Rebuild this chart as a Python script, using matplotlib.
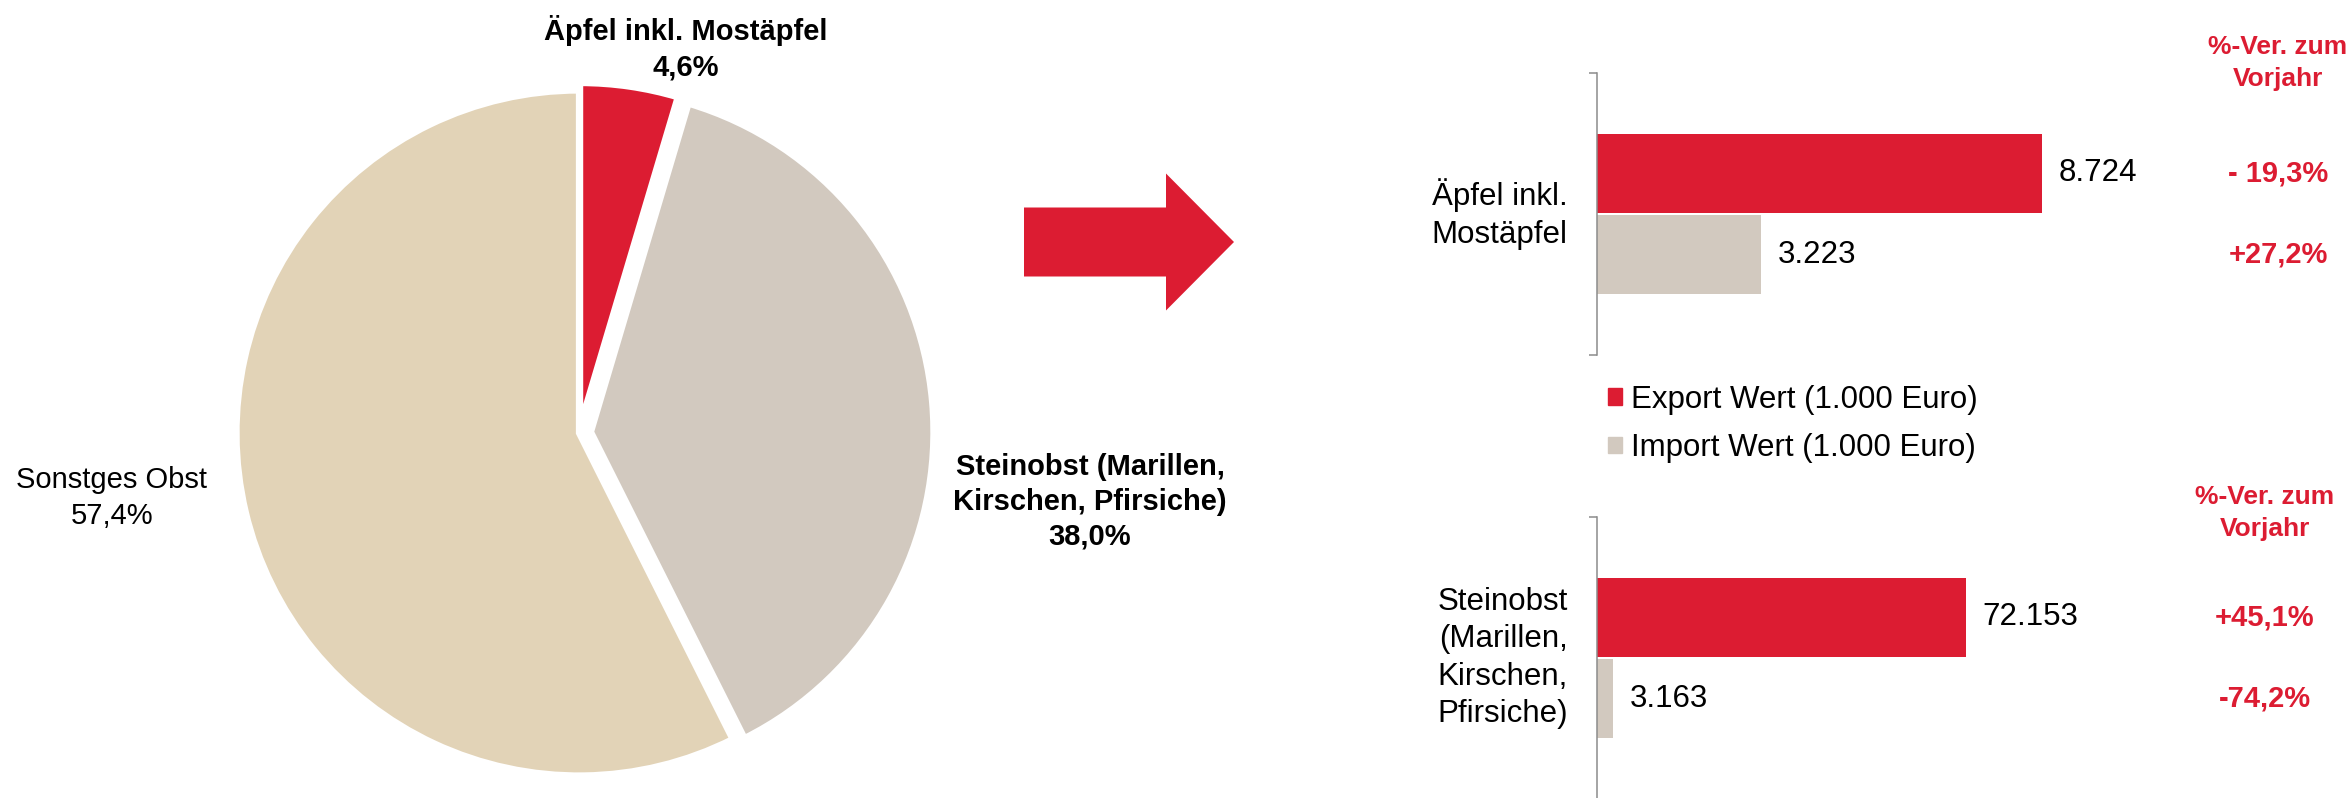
import numpy as np
import matplotlib
matplotlib.use("Agg")
import matplotlib.pyplot as plt
from matplotlib.patches import FancyArrow, Patch
from matplotlib.transforms import blended_transform_factory

plt.rcParams['font.family'] = ['Liberation Sans', 'DejaVu Sans']

# --- data ---
pie_labels = ["Äpfel inkl. Mostäpfel", "Steinobst (Marillen,\nKirschen, Pfirsiche)", "Sonstges Obst"]
pie_shares = [4.6, 38.0, 57.4]
pie_explode = [0.022, 0.035, 0.0]

categories = ["Äpfel inkl.\nMostäpfel", "Steinobst\n(Marillen,\nKirschen,\nPfirsiche)"]
export_wert = [8724, 72153]
import_wert = [3223, 3163]
export_change = ["- 19,3%", "+45,1%"]
import_change = ["+27,2%", "-74,2%"]
x_max = [10840, 108100]

RED = '#DC1C32'
STEIN = '#D2C9BF'
SONST = '#E2D3B7'
GREY = '#8C8C8C'

W, H = 2351, 798
fig = plt.figure(figsize=(W / 100, H / 100), dpi=100)


def box(left, top, width, height):
    return [left / W, 1 - (top + height) / H, width / W, height / H]


def de(v):
    return f"{v:,}".replace(",", ".")


def pct(v):
    return f"{v:.1f}%".replace(".", ",")


# overlay in pixel coordinates for arrow and free texts
ov = fig.add_axes([0, 0, 1, 1])
ov.set_xlim(0, W)
ov.set_ylim(H, 0)
ov.axis('off')

# --- pie ---
R = 342.5
half = 420
axp = fig.add_axes(box(579 - half, 433 - half, 2 * half, 2 * half))
axp.pie(pie_shares, colors=[RED, STEIN, SONST], startangle=90, counterclock=False,
        explode=pie_explode, radius=1,
        wedgeprops=dict(edgecolor='white', linewidth=4.5))
axp.set_xlim(-half / R, half / R)
axp.set_ylim(-half / R, half / R)
axp.axis('off')

ov.text(686, 48, pie_labels[0] + "\n" + pct(pie_shares[0]), ha='center', va='center',
        fontsize=21, fontweight='bold', linespacing=1.35)
ov.text(1090, 502, pie_labels[1] + "\n" + pct(pie_shares[1]), ha='center', va='center',
        fontsize=21, fontweight='bold', linespacing=1.3)
ov.text(112, 498, pie_labels[2] + "\n" + pct(pie_shares[2]), ha='center', va='center',
        fontsize=21, linespacing=1.35)

# --- arrow ---
ov.add_patch(FancyArrow(1024, 242, 210, 0, width=69, head_width=137, head_length=68,
                        length_includes_head=True, color=RED, linewidth=0))

# --- bar panels ---
tops = [73, 517]
pct_x = [2278, 2265]
head_y = [63, 513]
for i in range(2):
    ax = fig.add_axes(box(1597, tops[i], 553, 282))
    ax.barh([1], [export_wert[i]], height=0.97, color=RED)
    ax.barh([0], [import_wert[i]], height=0.97, color=STEIN)
    ax.set_xlim(0, x_max[i])
    ax.set_ylim(-1.24, 2.24)
    for s in ['top', 'right', 'bottom']:
        ax.spines[s].set_visible(False)
    ax.spines['left'].set_color(GREY)
    ax.spines['left'].set_linewidth(1.1)
    ax.set_xticks([])
    ax.set_yticks([-1.24, 2.24])
    ax.set_yticklabels([])
    ax.tick_params(axis='y', length=6, color=GREY, width=1.1)

    ax.annotate(de(export_wert[i]), (export_wert[i], 1), xytext=(12, 0),
                textcoords='offset points', ha='left', va='center', fontsize=22.5)
    ax.annotate(de(import_wert[i]), (import_wert[i], 0), xytext=(12, 0),
                textcoords='offset points', ha='left', va='center', fontsize=22.5)
    ax.annotate(categories[i], (0, 0.5), xytext=(-21, 0), textcoords='offset points',
                ha='right', va='center', fontsize=22.5, linespacing=1.33)

    tr = blended_transform_factory(ax.transAxes, ax.transData)
    xf = (pct_x[i] - 1597) / 553
    ax.text(xf, 1, export_change[i], transform=tr, ha='center', va='center',
            fontsize=21, fontweight='bold', color=RED)
    ax.text(xf, 0, import_change[i], transform=tr, ha='center', va='center',
            fontsize=21, fontweight='bold', color=RED)
    ov.text(pct_x[i], head_y[i], "%-Ver. zum\nVorjahr", ha='center', va='center',
            fontsize=19, fontweight='bold', color=RED, linespacing=1.4)

fig.legend(handles=[Patch(color=RED, label="Export Wert (1.000 Euro)"),
                    Patch(color=STEIN, label="Import Wert (1.000 Euro)")],
           loc='center left', bbox_to_anchor=(1608 / W, 1 - 424 / H), frameon=False,
           fontsize=22.5, handlelength=0.45, handleheight=0.45, handletextpad=0.3,
           labelspacing=0.58, borderpad=0, borderaxespad=0)

fig.savefig("out.png", dpi=100)
